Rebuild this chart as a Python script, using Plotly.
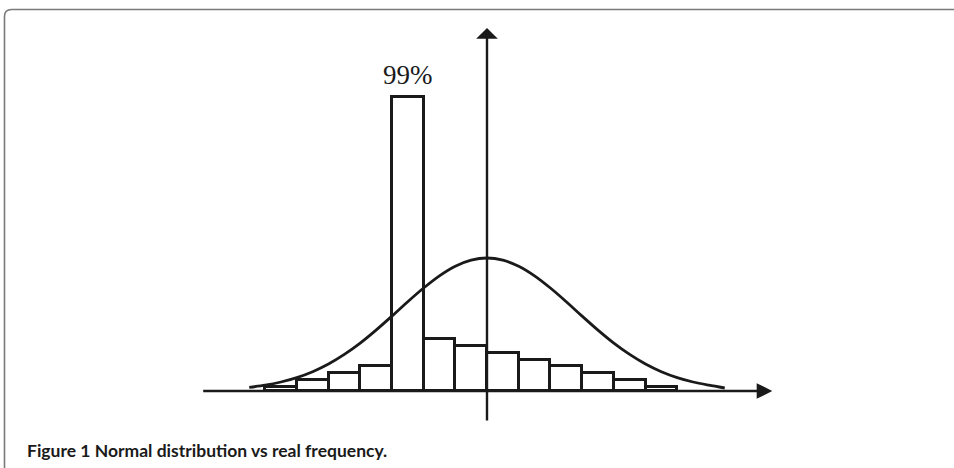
import plotly.graph_objects as go

# Histogram bins (unit = one bin width), real frequency heights (arbitrary units)
bin_centers = [-6.5, -5.5, -4.5, -3.5, -2.5, -1.5, -0.5, 0.5, 1.5, 2.5, 3.5, 4.5, 5.5]
frequencies = [4, 11, 18, 25, 294, 52, 45, 38, 31, 25, 18, 11, 4]

# Normal curve points
curve_x = [-7.5, -7, -6.5, -6, -5.5, -5, -4.5, -4, -3.5, -3, -2.5, -2, -1.5, -1, -0.5, 0,
           0.5, 1, 1.5, 2, 2.5, 3, 3.5, 4, 4.5, 5, 5.5, 6, 6.5, 7, 7.5]
curve_y = [3.7, 5.8, 9.0, 13.4, 19.3, 27.0, 36.6, 47.9, 60.9, 74.9, 89.3, 103.0, 115.2, 124.8, 130.9, 133,
           130.9, 124.8, 115.2, 103.0, 89.3, 74.9, 60.9, 47.9, 36.6, 27.0, 19.3, 13.4, 9.0, 5.8, 3.0]

peak_label = "99%"
caption = "Figure 1 Normal distribution vs real frequency."

INK = "#1a1a1a"

fig = go.Figure()
fig.add_trace(go.Bar(
    x=bin_centers, y=frequencies, width=1,
    marker=dict(color="white", line=dict(color=INK, width=3)),
    hoverinfo="skip",
))
fig.add_trace(go.Scatter(
    x=curve_x, y=curve_y, mode="lines",
    line=dict(color=INK, width=2.8, shape="spline", smoothing=0.8),
    hoverinfo="skip",
))

# Axes with arrows
fig.add_annotation(x=9.0, y=0, ax=-9.0, ay=0, xref="x", yref="y", axref="x", ayref="y",
                   showarrow=True, arrowhead=2, arrowsize=1.3, arrowwidth=2.4,
                   arrowcolor=INK, text="")
fig.add_annotation(x=0, y=363, ax=0, ay=-31, xref="x", yref="y", axref="x", ayref="y",
                   showarrow=True, arrowhead=1, arrowsize=1.5, arrowwidth=2.4,
                   arrowcolor=INK, text="")

# 99% label above the tall bar
fig.add_annotation(x=bin_centers[4], y=316, xref="x", yref="y", text=peak_label,
                   showarrow=False, yanchor="middle",
                   font=dict(family="Liberation Serif, DejaVu Serif, serif", size=27, color=INK))

# Caption
fig.add_annotation(x=25/954, y=1-450/468, xref="paper", yref="paper", text="<b>" + caption + "</b>",
                   showarrow=False, xanchor="left", yanchor="middle",
                   font=dict(family="Lato, Open Sans, sans-serif", size=17.5, color="#1a1a1a"))

# Frame (rounded top-left corner, open to right and bottom)
r = 7
x0, y0 = 4.5, 9.5
def px(x):
    return x / 954
def py(y):
    return 1 - y / 468
fig.add_shape(type="path", xref="paper", yref="paper",
              path=(f"M {px(x0)},{py(470)} L {px(x0)},{py(y0 + r)} "
                    f"Q {px(x0)},{py(y0)} {px(x0 + r)},{py(y0)} L {px(960)},{py(y0)}"),
              line=dict(color="#7a7a7a", width=1.6))

fig.update_layout(
    width=954, height=468, autosize=False,
    margin=dict(l=0, r=0, t=0, b=0),
    paper_bgcolor="white", plot_bgcolor="white",
    showlegend=False, bargap=0,
    xaxis=dict(range=[-487/31.7, (954-487)/31.7], visible=False, fixedrange=True),
    yaxis=dict(range=[-77, 391], visible=False, fixedrange=True),
)
fig.write_html("out.html", config={"displayModeBar": False},
               post_script="document.body.style.margin='0';document.body.style.padding='0';")
